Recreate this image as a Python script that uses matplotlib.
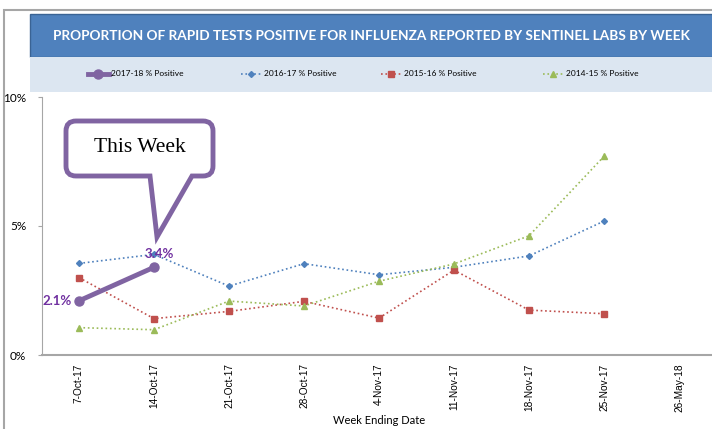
import matplotlib
matplotlib.use("Agg")
import matplotlib.pyplot as plt
from matplotlib.path import Path
from matplotlib.patches import PathPatch, Rectangle
from matplotlib.ticker import FuncFormatter

# data
weeks = ["7-Oct-17", "14-Oct-17", "21-Oct-17", "28-Oct-17", "4-Nov-17",
         "11-Nov-17", "18-Nov-17", "25-Nov-17", "26-May-18"]
pos_1718 = [2.1, 3.4]
pos_1617 = [3.55, 3.9, 2.67, 3.54, 3.11, 3.4, 3.84, 5.19]
pos_1516 = [3.0, 1.41, 1.69, 2.08, 1.43, 3.29, 1.74, 1.6]
pos_1415 = [1.06, 0.98, 2.09, 1.9, 2.86, 3.53, 4.62, 7.7]

W, H = 712, 429
fig = plt.figure(figsize=(W / 100, H / 100), dpi=100)
plt.rcParams['font.family'] = ['Lato', 'DejaVu Sans']


def fx(x):
    return x / W


def fy(y):
    return 1 - y / H


# outer chart frame
fig.patches.append(Rectangle((fx(4), fy(440)), fx(720), fy(10) - fy(440),
                             transform=fig.transFigure, fc="white", ec="#A6A6A6", lw=1.5, zorder=-2))
# title band
fig.patches.append(Rectangle((fx(30), fy(57)), fx(700), fy(14) - fy(57),
                             transform=fig.transFigure, fc="#4F81BD", ec="#3A6394", lw=1, zorder=-1))
fig.text(fx(371), fy(35.5), "PROPORTION OF RAPID TESTS POSITIVE FOR INFLUENZA REPORTED BY SENTINEL LABS BY WEEK",
         color="white", fontsize=9.8, fontweight="bold", ha="center", va="center")
# legend band
fig.patches.append(Rectangle((fx(30), fy(92)), fx(700), fy(57) - fy(92),
                             transform=fig.transFigure, fc="#DCE6F1", ec="none", zorder=-1))

ax = fig.add_axes([fx(41.5), fy(355), fx(675), fy(97) - fy(355)], zorder=1)
x = list(range(len(weeks)))
ax.plot(x[:len(pos_1617)], pos_1617, ls=":", lw=1.2, color="#4F81BD", marker="D", ms=3,
        label="2016-17 % Positive", zorder=3)
ax.plot(x[:len(pos_1516)], pos_1516, ls=":", lw=1.2, color="#C0504D", marker="s", ms=5,
        label="2015-16 % Positive", zorder=3)
ax.plot(x[:len(pos_1415)], pos_1415, ls=":", lw=1.2, color="#9BBB59", marker="^", ms=4,
        label="2014-15 % Positive", zorder=3)
ax.plot(x[:len(pos_1718)], pos_1718, ls="-", lw=3.5, color="#8064A2", marker="o", ms=6.5,
        label="2017-18 % Positive", zorder=4)

ax.annotate(f"{pos_1718[0]:.1f}%", (x[0], pos_1718[0]), xytext=(-5, 0), textcoords="offset points",
            ha="right", va="center", color="#7030A0", fontweight="bold", fontsize=9.5)
ax.annotate(f"{pos_1718[1]:.1f}%", (x[1], pos_1718[1]), xytext=(4, 5), textcoords="offset points",
            ha="center", va="bottom", color="#7030A0", fontweight="bold", fontsize=9.5)

ax.set_xlim(-0.5, len(weeks) - 0.5)
ax.set_ylim(0, 10)
ax.set_yticks([0, 5, 10])
ax.yaxis.set_major_formatter(FuncFormatter(lambda v, p: f"{v:.0f}%"))
ax.set_xticks(x)
ax.set_xticklabels(weeks, rotation=90, fontsize=7.3, family=["Liberation Sans"])
ax.tick_params(axis="x", length=0, pad=6)
ax.tick_params(axis="y", length=3, color="#A6A6A6", labelsize=8.5, pad=8)
for s in ["top", "right"]:
    ax.spines[s].set_visible(False)
ax.spines["left"].set_color("#A6A6A6")
ax.spines["bottom"].set_color("#A6A6A6")
ax.spines["bottom"].set_linewidth(1.5)
ax.patch.set_alpha(0)
fig.text(fx(379), fy(420), "Week Ending Date", fontsize=8, ha="center", va="center")

# legend entries, placed one by one like the original
handles, labels = ax.get_legend_handles_labels()
order = [3, 0, 1, 2]
starts = [88, 241, 381, 543]
for i, sx in zip(order, starts):
    leg = fig.legend([handles[i]], [labels[i]], loc="center left", bbox_to_anchor=(fx(sx), fy(74)),
                     frameon=False, fontsize=6, handlelength=2.5, handletextpad=0.3,
                     borderpad=0, borderaxespad=0)

# "This Week" callout
x0, x1, y0, y1, r = 66, 213, 121, 176, 10
verts = [(x0 + r, y0), (x1 - r, y0), (x1, y0), (x1, y0 + r), (x1, y1 - r), (x1, y1), (x1 - r, y1),
         (192, y1), (157, 237), (150, y1),
         (x0 + r, y1), (x0, y1), (x0, y1 - r), (x0, y0 + r), (x0, y0), (x0 + r, y0), (x0 + r, y0)]
codes = [Path.MOVETO, Path.LINETO, Path.CURVE3, Path.CURVE3, Path.LINETO, Path.CURVE3, Path.CURVE3,
         Path.LINETO, Path.LINETO, Path.LINETO,
         Path.LINETO, Path.CURVE3, Path.CURVE3, Path.LINETO, Path.CURVE3, Path.CURVE3, Path.CLOSEPOLY]
path = Path([(fx(a), fy(b)) for a, b in verts], codes)
fig.patches.append(PathPatch(path, transform=fig.transFigure, fc="white", ec="#8064A2", lw=3.5,
                             joinstyle="miter", zorder=5))
fig.text(fx(140), fy(148), "This Week", fontsize=15.5, family=["Liberation Serif"], ha="center",
         va="center", zorder=6)

fig.savefig("out.png", dpi=100)
